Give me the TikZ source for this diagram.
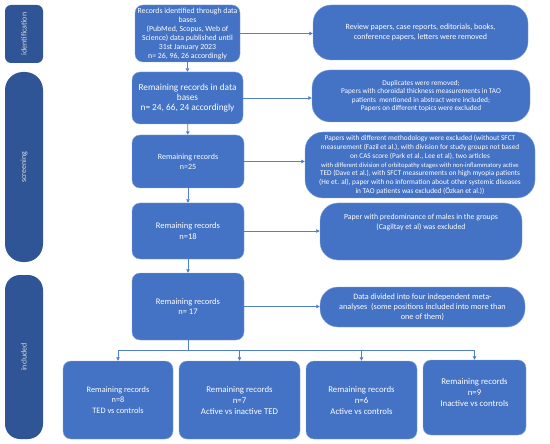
\documentclass[tikz,border=0pt]{standalone}
\usepackage{fontspec}
\setmainfont{Carlito}
\usepackage{tikz}
\usetikzlibrary{arrows.meta}

\definecolor{boxblue}{HTML}{4472C4}
\definecolor{barblue}{HTML}{2F5597}
\definecolor{lineblue}{HTML}{4F7FD0}

\begin{document}
\begin{tikzpicture}[x=1pt, y=-1pt,
    stagebar/.style={fill=barblue, text=white!85!black, rotate=90, font=\fontsize{8}{9}\selectfont},
    mainbox/.style={draw=lineblue!70!white, fill=boxblue, text=white, rounded corners=8pt, align=center, inner sep=1pt},
    sidebox/.style={draw=lineblue!70!white, fill=boxblue, text=white, rounded corners=18pt, align=center, inner sep=1pt},
    flow/.style={draw=lineblue, line width=0.8pt, -{Triangle[length=3.5pt,width=3.5pt]}}]
\useasboundingbox (0,0) rectangle (550,444);

% stages
\node[stagebar, rounded corners=6pt, minimum width=58pt, minimum height=38pt] (ident) at (24,34) {identification};
\node[stagebar, rounded corners=18pt, minimum width=190pt, minimum height=38pt] (screen) at (24,167) {screening};
\node[stagebar, rounded corners=15pt, minimum width=164pt, minimum height=38pt] (incl) at (24,357) {included};

% main column
\node[mainbox, minimum width=105pt, minimum height=57pt, font=\fontsize{7.8}{9}\selectfont] (rec1) at (187.5,33.5) {Records identified through data\\bases\\(PubMed, Scopus, Web of\\Science) data published until\\31st January 2023\\n= 26, 96, 26 accordingly};
\node[mainbox, minimum width=111pt, minimum height=52pt, font=\fontsize{9.3}{10}\selectfont] (rec2) at (187.5,98) {Remaining records in data\\bases\\n= 24, 66, 24 accordingly};
\node[mainbox, minimum width=112pt, minimum height=53pt, font=\fontsize{8}{10}\selectfont] (rec3) at (188,161.5) {Remaining records\\n=25};
\node[mainbox, minimum width=112pt, minimum height=56pt, font=\fontsize{8.5}{10.5}\selectfont] (rec4) at (188,231) {Remaining records\\n=18};
\node[mainbox, minimum width=112pt, minimum height=67pt, font=\fontsize{8.5}{10.5}\selectfont] (rec5) at (188,306.5) {Remaining records\\n= 17};

% exclusions
\node[sidebox, minimum width=215pt, minimum height=55pt, font=\fontsize{8}{10}\selectfont] (excl1) at (420.5,32.5) {Review papers, case reports, editorials, books,\\conference papers, letters were removed};
\node[sidebox, minimum width=218pt, minimum height=52pt, font=\fontsize{7.3}{8.4}\selectfont] (excl2) at (421,96) {Duplicates were removed;\\Papers with choroidal thickness measurements in TAO\\patients\ \ mentioned in abstract were included;\\Papers on different topics were excluded};
\node[sidebox, minimum width=230pt, minimum height=66pt, font=\fontsize{7.3}{8.7}\selectfont] (excl3) at (420,165) {Papers with different methodology were excluded (without SFCT\\measurement (Fazil et al.), with division for study groups not based\\on CAS score (Park et al., Lee et al), two articles\\{\fontsize{6.6}{8.7}\selectfont with different division of orbitopathy stages with non-inflammatory active}\\TED (Dave et al.), with SFCT measurements on high myopia patients\\(He et. al), paper with no information about other systemic diseases\\in TAO patients was excluded (Özkan et al.))};
\node[sidebox, minimum width=202pt, minimum height=57pt, text depth=20pt, font=\fontsize{7.8}{10}\selectfont] (excl4) at (421,231.5) {Paper with predominance of males in the groups\\(Cagiltay et al) was excluded};
\node[sidebox, minimum width=205pt, minimum height=40pt, font=\fontsize{8.2}{10}\selectfont] (excl5) at (422.5,307) {Data divided into four independent meta-\\analyses\ \ (some positions included into more than\\one of them)};

% outcomes
\node[mainbox, minimum width=110pt, minimum height=78pt, font=\fontsize{8.3}{10.5}\selectfont] (out1) at (118,400) {Remaining records\\n=8\\TED vs controls};
\node[mainbox, minimum width=121pt, minimum height=78pt, font=\fontsize{8.8}{11}\selectfont] (out2) at (239.5,400) {Remaining records\\n=7\\Active vs inactive TED};
\node[mainbox, minimum width=111pt, minimum height=78pt, font=\fontsize{8.8}{11}\selectfont] (out3) at (361.5,400) {Remaining records\\n=6\\Active vs controls};
\node[mainbox, minimum width=103pt, minimum height=75pt, text depth=10pt, font=\fontsize{8.8}{11}\selectfont] (out4) at (474.5,397.5) {Remaining records\\n=9\\Inactive vs controls};

% connectors
\draw[flow] (rec1) -- (rec2);
\draw[flow] (rec2) -- (rec3);
\draw[flow] (rec3) -- (rec4);
\draw[flow] (rec4) -- (rec5);
\foreach \i in {1,...,5}
  \draw[flow] (rec\i.east) -- (rec\i.east -| excl\i.west);
\coordinate (split) at (188,350);
\draw[lineblue, line width=0.8pt] (rec5.south) -- (split);
\draw[lineblue, line width=0.8pt] (split -| out1) -- (split -| out4);
\foreach \o in {out1,out2,out3,out4}
  \draw[flow] (split -| \o.north) -- (\o.north);
\end{tikzpicture}
\end{document}
